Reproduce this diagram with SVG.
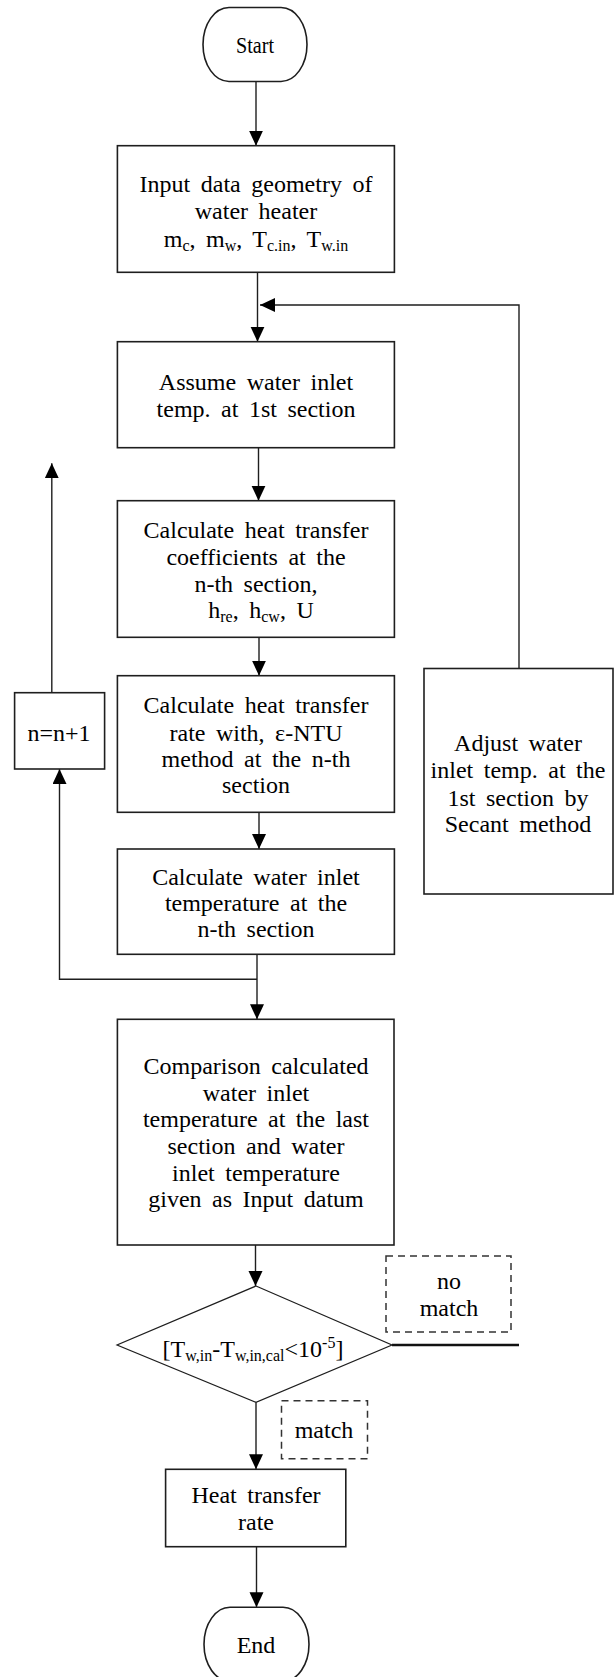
<svg xmlns="http://www.w3.org/2000/svg" width="616" height="1677" viewBox="0 0 616 1677">
<style>
.box{fill:#fff;stroke:#1e1e1e;stroke-width:1.6}
.dash{fill:none;stroke:#333;stroke-width:1.5;stroke-dasharray:7 5}
.t{font-family:"Liberation Serif","Times New Roman",serif;font-size:24px;fill:#000;text-anchor:middle;word-spacing:4.5px}
.sub{font-size:16px;word-spacing:0}
.ln{fill:none;stroke:#1e1e1e;stroke-width:1.4}
.thick{fill:none;stroke:#111;stroke-width:2.6}
</style>
<defs>
<marker id="ah" markerUnits="userSpaceOnUse" markerWidth="16" markerHeight="15" refX="15" refY="7" orient="auto">
<path d="M0,0 L15,7 L0,14 z" fill="#000"/>
</marker>
</defs>
<rect width="616" height="1677" fill="#fff"/>

<g id="connectors">
<path class="ln" d="M256,81.7 V145.7" marker-end="url(#ah)"/>
<path class="ln" d="M257.5,272.3 V341.7" marker-end="url(#ah)"/>
<path class="ln" d="M519,668.5 V305 H260" marker-end="url(#ah)"/>
<path class="ln" d="M258.5,447.7 V500.7" marker-end="url(#ah)"/>
<path class="ln" d="M259,637.3 V675.7" marker-end="url(#ah)"/>
<path class="ln" d="M259,812.3 V849" marker-end="url(#ah)"/>
<path class="ln" d="M257,954.3 V1019.3" marker-end="url(#ah)"/>
<path class="ln" d="M257,979.3 H59.5 V769" marker-end="url(#ah)"/>
<path class="ln" d="M51.8,692.7 V463.3" marker-end="url(#ah)"/>
<path class="ln" d="M255.5,1245 V1286" marker-end="url(#ah)"/>
<path class="thick" d="M392,1345 H519"/>
<path class="ln" d="M256,1402.3 V1469.3" marker-end="url(#ah)"/>
<path class="ln" d="M256.5,1546.7 V1607.3" marker-end="url(#ah)"/>
</g>

<g id="start">
<rect class="box" x="203" y="7.5" width="104" height="74" rx="26" ry="37"/>
<text class="t" x="255" y="53" textLength="38" lengthAdjust="spacingAndGlyphs">Start</text>
</g>

<g id="input">
<rect class="box" x="117.4" y="145.7" width="277" height="126.6"/>
<text class="t" x="256" y="192">Input data geometry of</text>
<text class="t" x="256" y="219">water heater</text>
<text class="t" x="256" y="247">m<tspan class="sub" dy="4">c</tspan><tspan dy="-4">, m</tspan><tspan class="sub" dy="4">w</tspan><tspan dy="-4">, T</tspan><tspan class="sub" dy="4">c.in</tspan><tspan dy="-4">, T</tspan><tspan class="sub" dy="4">w.in</tspan></text>
</g>

<g id="assume">
<rect class="box" x="117.4" y="341.7" width="277" height="106"/>
<text class="t" x="256" y="390">Assume water inlet</text>
<text class="t" x="256" y="417">temp. at 1st section</text>
</g>

<g id="calc-coeff">
<rect class="box" x="117.4" y="500.7" width="277" height="136.6"/>
<text class="t" x="256" y="537.7">Calculate heat transfer</text>
<text class="t" x="256" y="565">coefficients at the</text>
<text class="t" x="256" y="591.7">n-th section,</text>
<text class="t" x="261" y="618.3">h<tspan class="sub" dy="4">re</tspan><tspan dy="-4">, h</tspan><tspan class="sub" dy="4">cw</tspan><tspan dy="-4">, U</tspan></text>
</g>

<g id="calc-rate">
<rect class="box" x="117.4" y="675.7" width="277" height="136.6"/>
<text class="t" x="256" y="713.3">Calculate heat transfer</text>
<text class="t" x="256" y="740.7">rate with, ε-NTU</text>
<text class="t" x="256" y="767.3">method at the n-th</text>
<text class="t" x="256" y="793.3">section</text>
</g>

<g id="increment">
<rect class="box" x="14.6" y="692.7" width="90" height="76.3"/>
<text class="t" x="59" y="740.7">n=n+1</text>
</g>

<g id="calc-temp">
<rect class="box" x="117.4" y="849" width="277" height="105.3"/>
<text class="t" x="256" y="885">Calculate water inlet</text>
<text class="t" x="256" y="911">temperature at the</text>
<text class="t" x="256" y="937.3">n-th section</text>
</g>

<g id="adjust">
<rect class="box" x="424" y="668.5" width="189" height="225.5"/>
<text class="t" x="518" y="750.5">Adjust water</text>
<text class="t" x="518" y="778">inlet temp. at the</text>
<text class="t" x="518" y="805.5">1st section by</text>
<text class="t" x="518" y="831.5">Secant method</text>
</g>

<g id="comparison">
<rect class="box" x="117.4" y="1019.3" width="276.6" height="225.7"/>
<text class="t" x="256" y="1074">Comparison calculated</text>
<text class="t" x="256" y="1100.7">water inlet</text>
<text class="t" x="256" y="1127.3">temperature at the last</text>
<text class="t" x="256" y="1154.3">section and water</text>
<text class="t" x="256" y="1181">inlet temperature</text>
<text class="t" x="256" y="1207.3">given as Input datum</text>
</g>

<g id="decision">
<polygon class="box" points="256,1286 392,1345 256,1402.3 117,1345" style="stroke-width:1.2"/>
<text class="t" x="253" y="1356.7">[T<tspan class="sub" dy="4">w,in</tspan><tspan dy="-4">-T</tspan><tspan class="sub" dy="4">w,in,cal</tspan><tspan dy="-4">&lt;10</tspan><tspan class="sub" dy="-9">-5</tspan><tspan dy="9">]</tspan></text>
</g>

<g id="no-match">
<rect class="dash" x="386" y="1256" width="125" height="76"/>
<text class="t" x="449" y="1289.3">no</text>
<text class="t" x="449" y="1316">match</text>
</g>

<g id="match">
<rect class="dash" x="281.5" y="1400.7" width="86" height="58"/>
<text class="t" x="324" y="1438.3">match</text>
</g>

<g id="result">
<rect class="box" x="165.6" y="1469.3" width="180.2" height="77.4"/>
<text class="t" x="256" y="1503.3">Heat transfer</text>
<text class="t" x="256" y="1530">rate</text>
</g>

<g id="end">
<rect class="box" x="204" y="1607.3" width="105" height="74" rx="26" ry="37"/>
<text class="t" x="256" y="1653.3">End</text>
</g>
</svg>
